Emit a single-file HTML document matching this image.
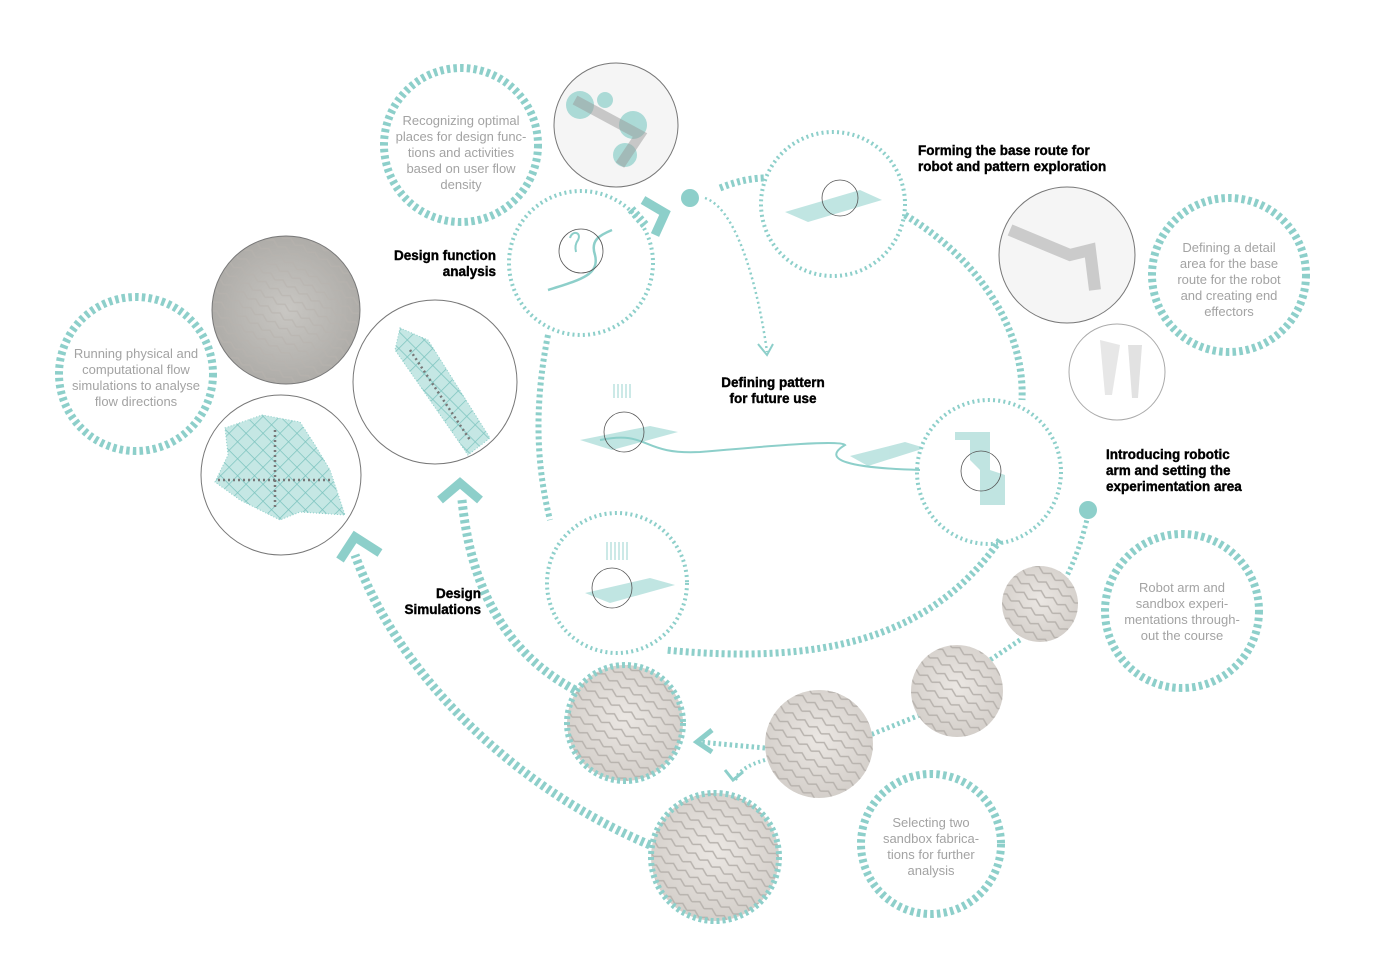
<!DOCTYPE html>
<html><head><meta charset="utf-8"><style>
html,body{margin:0;padding:0;background:#fff;width:1399px;height:960px;overflow:hidden}
svg{display:block}
.g{font-family:"Liberation Sans",sans-serif;font-size:13px;fill:#a3a3a3;text-anchor:middle}
.b{font-family:"Liberation Sans",sans-serif;font-size:13.5px;font-weight:bold;fill:#000;stroke:#000;stroke-width:0.4}
</style></head><body>
<svg width="1399" height="960" viewBox="0 0 1399 960" xmlns="http://www.w3.org/2000/svg">
<defs>
<radialGradient id="sand" cx="50%" cy="45%" r="60%"><stop offset="0" stop-color="#ebe7e3"/><stop offset="1" stop-color="#d2cdc8"/></radialGradient>
<radialGradient id="rock" cx="50%" cy="50%" r="60%"><stop offset="0" stop-color="#c9c7c3"/><stop offset="1" stop-color="#a9a7a3"/></radialGradient>
<pattern id="tex" width="14" height="10" patternUnits="userSpaceOnUse" patternTransform="rotate(30)"><path d="M0,5 L7,1 L14,5" fill="none" stroke="#b8b3ae" stroke-width="1.5"/></pattern>
<pattern id="lat" width="12" height="12" patternUnits="userSpaceOnUse" patternTransform="rotate(45)"><rect width="12" height="12" fill="#c5e7e4"/><path d="M0,0 H12 M0,0 V12" stroke="#7fc5c0" stroke-width="1.5"/></pattern>
</defs>
<g fill="none" stroke="#8dcfca">
<path d="M905,215 C980,260 1025,330 1022,400" stroke-width="7" stroke-dasharray="3,3"/>
<path d="M1000,540 C930,640 820,665 665,650" stroke-width="7" stroke-dasharray="3,3"/>
<path d="M548,335 C535,400 535,460 550,520" stroke-width="6" stroke-dasharray="3,3"/>
<path d="M720,188 C740,180 755,178 765,178" stroke-width="7" stroke-dasharray="3,3"/>
<circle cx="581" cy="263" r="72" stroke-width="4" stroke-dasharray="2,3.2"/>
<circle cx="833" cy="204" r="72" stroke-width="4" stroke-dasharray="2,3.2"/>
<circle cx="989" cy="472" r="72" stroke-width="4" stroke-dasharray="2,3.2"/>
<circle cx="617" cy="583" r="70" stroke-width="4" stroke-dasharray="2,3.2"/>
<circle cx="461" cy="145" r="77" stroke-width="8" stroke-dasharray="3.5,3.2"/>
<circle cx="136" cy="374" r="77" stroke-width="8" stroke-dasharray="3.5,3.2"/>
<circle cx="1229" cy="275" r="77" stroke-width="8" stroke-dasharray="3.5,3.2"/>
<circle cx="1182" cy="611" r="77" stroke-width="8" stroke-dasharray="3.5,3.2"/>
<circle cx="931" cy="844" r="70" stroke-width="8" stroke-dasharray="3.5,3.2"/>
<path d="M705,198 C740,210 760,300 767,352" stroke-width="2.5" stroke-dasharray="2,3"/>
<path d="M758,344 L767,355 L773,344" stroke-width="2"/>
<path d="M1088,515 C1080,550 1070,570 1060,590" stroke-width="5" stroke-dasharray="2.5,3"/>
<path d="M1020,640 L990,660" stroke-width="5" stroke-dasharray="2.5,3"/>
<path d="M920,715 L870,735" stroke-width="5" stroke-dasharray="2.5,3"/>
<path d="M765,748 L700,742" stroke-width="5" stroke-dasharray="2.5,3"/>
<path d="M712,730 L697,742 L712,752" stroke-width="5"/>
<path d="M765,760 C748,765 740,770 735,780" stroke-width="4" stroke-dasharray="2,3"/>
<path d="M725,770 L733,780 L743,772" stroke-width="3"/>
<path d="M650,845 C520,790 400,680 355,555" stroke-width="9" stroke-dasharray="3.5,3.2"/>
<path d="M340,560 L355,537 L380,553" stroke-width="9"/>
<path d="M575,690 C500,650 470,580 462,500" stroke-width="9" stroke-dasharray="3.5,3.2"/>
<path d="M440,500 L460,483 L480,500" stroke-width="9"/>
<path d="M643,200 L665,213 L655,235" stroke-width="9"/>
<path d="M645,225 L630,208" stroke-width="9" stroke-dasharray="3,3"/>
<path d="M548,290 C580,280 600,275 595,255 C590,240 600,235 612,230" stroke-width="2.5"/>
<path d="M570,238 C572,230 582,232 578,240 C575,244 575,248 576,252" stroke-width="2"/>
<path d="M600,440 C650,430 640,455 700,452 C780,445 840,440 845,445 C820,460 850,468 920,470" stroke-width="2"/>
</g>
<g fill="#8dcfca">
<circle cx="690" cy="198" r="9"/>
<circle cx="1088" cy="510" r="9"/>
<g opacity="0.55">
<path d="M580,440 L650,426 L678,432 L612,450Z"/>
<path d="M850,456 L905,442 L925,448 L868,466Z"/>
<path d="M585,593 L650,578 L675,585 L610,603Z"/>
<path d="M785,212 L860,190 L882,200 L808,222Z"/>
<path d="M955,432 L990,432 L990,470 L1005,475 L1005,505 L980,505 L980,470 L970,460 L970,440 L955,440Z"/>
</g>
</g>
<g stroke="#8dcfca" stroke-width="1.5" opacity="0.6">
<path d="M614,384 v14 M618,384 v14 M622,384 v14 M626,384 v14 M630,384 v14"/>
<path d="M607,542 v18 M611,542 v18 M615,542 v18 M619,542 v18 M623,542 v18 M627,542 v18"/>
</g>
<g stroke="#777" stroke-width="1">
<circle cx="616" cy="125" r="62" fill="#f5f5f5"/>
<circle cx="286" cy="310" r="74" fill="url(#rock)"/>
<circle cx="435" cy="382" r="82" fill="#fff"/>
<circle cx="281" cy="475" r="80" fill="#fff"/>
<circle cx="1067" cy="255" r="68" fill="#f5f5f5"/>
<circle cx="1117" cy="372" r="48" fill="#fff" stroke="#aaa"/>
</g>
<circle cx="286" cy="310" r="73" fill="url(#tex)" opacity="0.6"/>
<g stroke="none">
<circle cx="1040" cy="604" r="38" fill="url(#sand)"/>
<circle cx="957" cy="691" r="46" fill="url(#sand)"/>
<circle cx="819" cy="744" r="54" fill="url(#sand)"/>
<circle cx="625" cy="723" r="58" fill="url(#sand)"/>
<circle cx="715" cy="857" r="64" fill="url(#sand)"/>
<circle cx="1040" cy="604" r="38" fill="url(#tex)"/>
<circle cx="957" cy="691" r="46" fill="url(#tex)"/>
<circle cx="819" cy="744" r="54" fill="url(#tex)"/>
<circle cx="625" cy="723" r="58" fill="url(#tex)"/>
<circle cx="715" cy="857" r="64" fill="url(#tex)"/>
</g>
<g fill="none" stroke="#8dcfca" stroke-width="6" stroke-dasharray="3,3"><circle cx="625" cy="723" r="58"/><circle cx="715" cy="857" r="64"/></g>
<g fill="#8dcfca" opacity="0.7">
<circle cx="580" cy="105" r="14"/><circle cx="633" cy="125" r="14"/><circle cx="625" cy="155" r="12"/><circle cx="605" cy="100" r="8"/>
</g>
<path d="M575,100 L640,135 L620,165" stroke="#999" stroke-width="10" fill="none" opacity="0.5"/>
<path d="M1010,230 L1070,255 L1090,250 L1095,290" stroke="#999" stroke-width="12" fill="none" opacity="0.45"/>
<path d="M1100,340 L1120,345 L1112,395 L1105,395Z" fill="#e7e7e7"/>
<path d="M1128,345 L1142,345 L1138,398 L1132,398Z" fill="#e2e2e2"/>
<path d="M400,328 L428,340 L490,438 L468,455 L395,350Z" fill="url(#lat)" stroke="#8dcfca" stroke-dasharray="1,2"/>
<path d="M225,428 L262,415 L300,422 L315,445 L330,470 L345,515 L300,512 L280,520 L240,500 L215,482 L228,455Z" fill="url(#lat)" stroke="#8dcfca" stroke-dasharray="1,2"/>
<g stroke="#777" stroke-width="2.5" stroke-dasharray="2,3" fill="none"><path d="M410,350 L470,440"/><path d="M218,480 L330,480 M275,430 L275,510"/></g>
<g class="g">
<text x="461" y="125">Recognizing optimal</text><text x="461" y="141">places for design func-</text><text x="461" y="157">tions and activities</text><text x="461" y="173">based on user flow</text><text x="461" y="189">density</text>
<text x="136" y="358">Running physical and</text><text x="136" y="374">computational flow</text><text x="136" y="390">simulations to analyse</text><text x="136" y="406">flow directions</text>
<text x="1229" y="252">Defining a detail</text><text x="1229" y="268">area for the base</text><text x="1229" y="284">route for the robot</text><text x="1229" y="300">and creating end</text><text x="1229" y="316">effectors</text>
<text x="1182" y="592">Robot arm and</text><text x="1182" y="608">sandbox experi-</text><text x="1182" y="624">mentations through-</text><text x="1182" y="640">out the course</text>
<text x="931" y="827">Selecting two</text><text x="931" y="843">sandbox fabrica-</text><text x="931" y="859">tions for further</text><text x="931" y="875">analysis</text>
</g>
<g class="b">
<text x="918" y="155">Forming the base route for</text><text x="918" y="171">robot and pattern exploration</text>
<text x="496" y="260" text-anchor="end">Design function</text><text x="496" y="276" text-anchor="end">analysis</text>
<text x="773" y="387" text-anchor="middle">Defining pattern</text><text x="773" y="403" text-anchor="middle">for future use</text>
<text x="1106" y="459">Introducing robotic</text><text x="1106" y="475">arm and setting the</text><text x="1106" y="491">experimentation area</text>
<text x="481" y="598" text-anchor="end">Design</text><text x="481" y="614" text-anchor="end">Simulations</text>
</g>
<g fill="none" stroke="#555" stroke-width="0.8">
<circle cx="581" cy="251" r="22"/><circle cx="840" cy="198" r="18"/><circle cx="624" cy="432" r="20"/><circle cx="981" cy="471" r="20"/><circle cx="612" cy="588" r="20"/>
</g>
</svg>
</body></html>
